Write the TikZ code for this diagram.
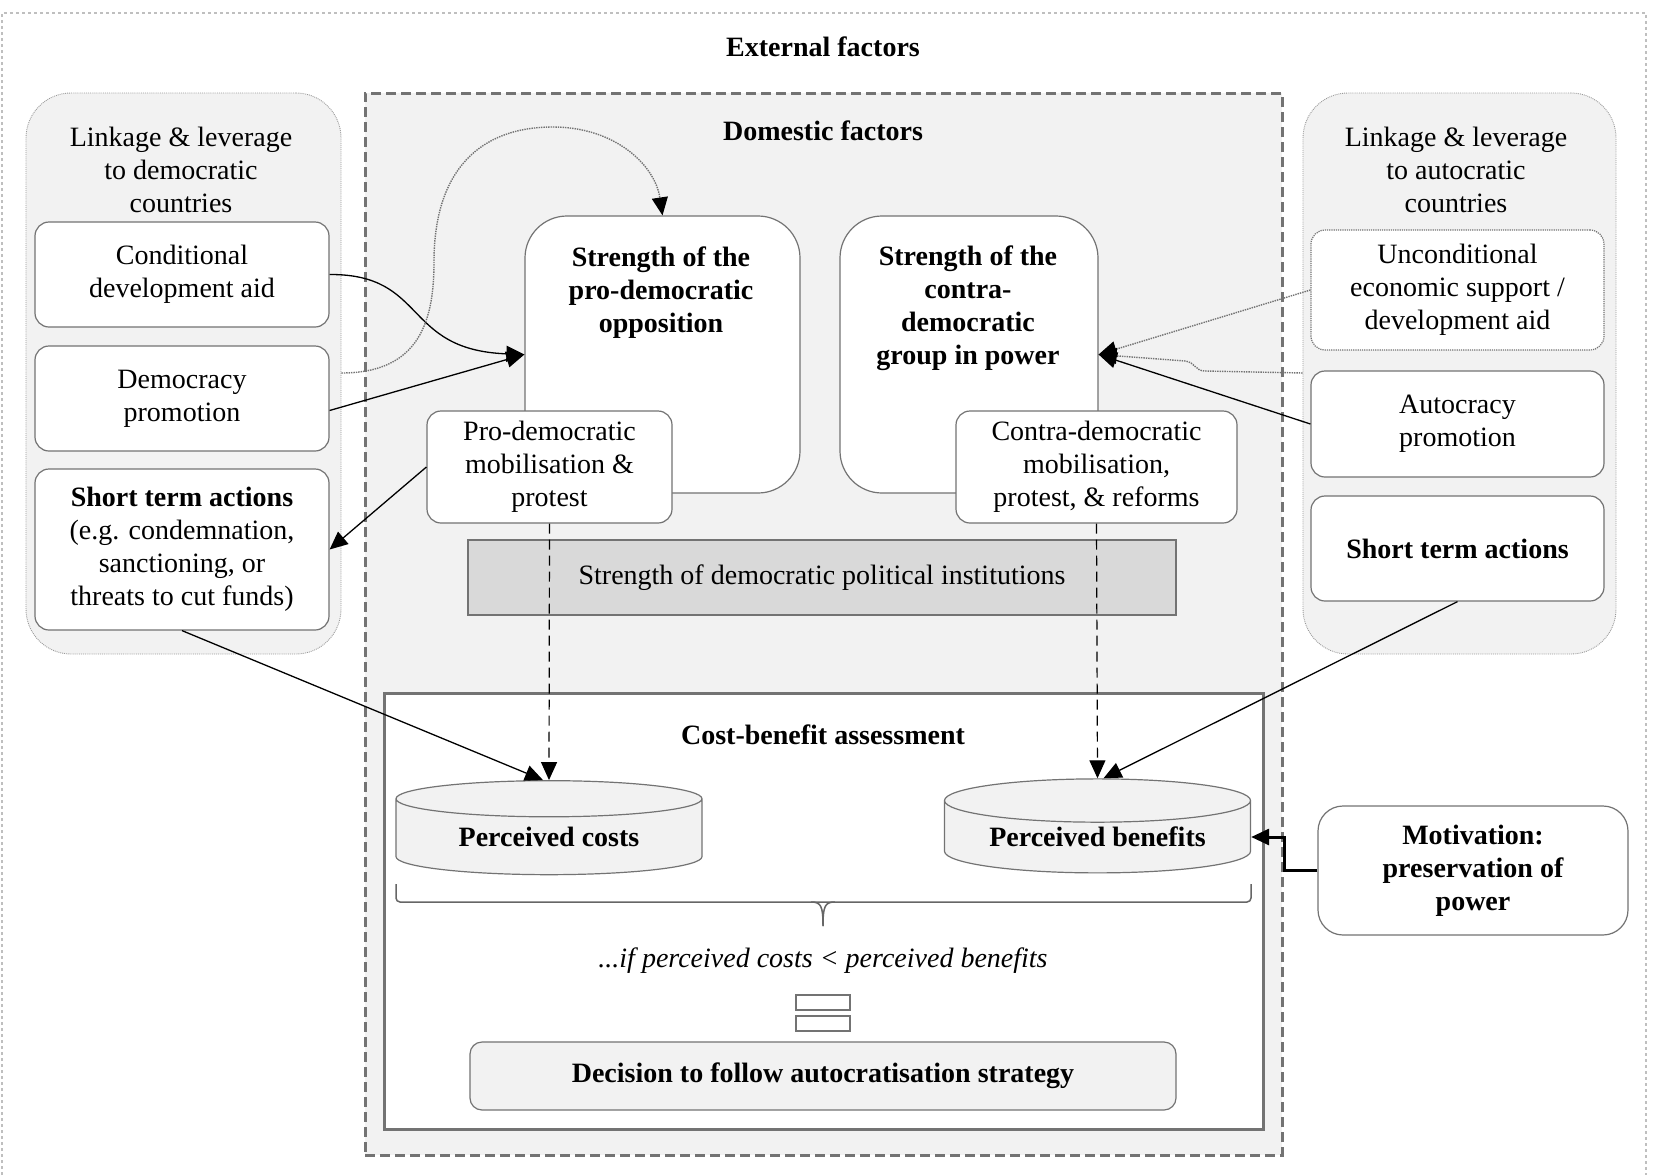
\documentclass[tikz,border=0pt]{standalone}
\usepackage{fontspec}
\setmainfont{Liberation Serif}
\usetikzlibrary{arrows.meta,shapes.geometric}

\begin{document}
\begin{tikzpicture}[x=1pt,y=-1pt,
    every node/.style={font=\fontsize{28}{33}\selectfont, align=center, inner sep=0pt},
    btext/.style={font=\fontsize{28}{33}\selectfont\bfseries},
    grpbox/.style={draw=black!40, densely dotted, line width=0.9pt, fill=black!5, rounded corners=45pt},
    itembox/.style={draw=black!55, line width=1.2pt, fill=white, rounded corners=14pt},
    strbox/.style={draw=black!55, line width=1.2pt, fill=white, rounded corners=42pt},
    drum/.style={cylinder, shape border rotate=90, aspect=0.2, draw=black!55, line width=1.2pt, fill=black!5},
    arr/.style={line width=1.3pt, -{Triangle[length=18pt,width=16pt]}},
    dotarr/.style={draw=black!55, densely dotted, line width=1.4pt, -{Triangle[length=18pt,width=16pt,color=black]}},
    dasharr/.style={dash pattern=on 10pt off 6pt, line width=1.2pt, -{Triangle[length=18pt,width=16pt]}}]
    \useasboundingbox (0,0) rectangle (1654,1175);
    \draw[black!25, dashed, line width=1.5pt] (2,1175) -- (2,13) -- (1646,13) -- (1646,1175);
    \node[btext] (ext) at (823,47) {External factors};
    \node[draw=black!55, dash pattern=on 10pt off 5pt, line width=3pt, fill=black!5, minimum width=917pt, minimum height=1062pt] (dom) at (823.5,624) {};
    \node[btext] (domt) at (823,131) {Domestic factors};

    \node[grpbox, minimum width=315pt, minimum height=561pt] (lgrp) at (183.5,373.5) {};
    \node (lgrpt) at (181,170) {Linkage \& leverage\\to democratic\\countries};
    \node[itembox, minimum width=294pt, minimum height=105pt] (cond) at (182,274.5) {Conditional\\development aid};
    \node[itembox, minimum width=294pt, minimum height=105pt] (dempro) at (182,398.5) {Democracy\\promotion};
    \node[itembox, minimum width=294pt, minimum height=161pt] (lshort) at (182,549.5) {\textbf{Short term actions}\\(e.g. condemnation,\\sanctioning, or\\threats to cut funds)};

    \node[grpbox, minimum width=313pt, minimum height=561pt] (rgrp) at (1459.5,373.5) {};
    \node (rgrpt) at (1456,170) {Linkage \& leverage\\to autocratic\\countries};
    \node[itembox, densely dotted, minimum width=293pt, minimum height=120pt] (uncond) at (1457.5,290) {Unconditional\\economic support /\\development aid};
    \node[itembox, minimum width=293pt, minimum height=106pt] (autpro) at (1457.5,424) {Autocracy\\promotion};
    \node[itembox, btext, minimum width=293pt, minimum height=105pt] (rshort) at (1457.5,548.5) {Short term actions};

    \node[strbox, minimum width=275pt, minimum height=277pt] (prostr) at (662.5,354.5) {};
    \node[btext] (prostrt) at (661,293) {Strength of the\\pro-democratic\\opposition};
    \node[strbox, minimum width=258pt, minimum height=277pt] (constr) at (969,354.5) {};
    \node[btext] (constrt) at (968,308) {Strength of the\\contra-\\democratic\\group in power};
    \node[itembox, minimum width=245pt, minimum height=112pt] (promob) at (549.5,467) {Pro-democratic\\mobilisation \&\\protest};
    \node[itembox, minimum width=281pt, minimum height=112pt] (conmob) at (1096.5,467) {Contra-democratic\\mobilisation,\\protest, \& reforms};
    \node[draw=black!55, line width=1.2pt, fill=black!15, minimum width=708pt, minimum height=75pt] (inst) at (822,577.5) {Strength of democratic political institutions};

    \node[draw=black!55, line width=3pt, fill=white, minimum width=879pt, minimum height=436pt] (cba) at (823.5,911) {};
    \node[btext] (cbat) at (823,735) {Cost-benefit assessment};
    \node[drum, btext, minimum width=306pt, minimum height=94pt] (costs) at (549,837) {Perceived costs};
    \node[drum, btext, minimum width=306pt, minimum height=94pt] (benef) at (1097.5,837) {Perceived benefits};
    \draw[black!60, line width=1.5pt, rounded corners=4pt] (396,884) -- (396,902) -- (1251,902) -- (1251,884);
    \draw[black!60, line width=1.5pt] (811,902) .. controls (821,902) and (823,906) .. (823,926);
    \draw[black!60, line width=1.5pt] (835,902) .. controls (825,902) and (823,906) .. (823,926);
    \node[font=\fontsize{28}{33}\selectfont\itshape] (rule) at (823,961) {...if perceived costs < perceived benefits};
    \draw[black!55, line width=1.2pt, fill=white] (796,995) rectangle (850,1010);
    \draw[black!55, line width=1.2pt, fill=white] (796,1016) rectangle (850,1031);
    \node[itembox, btext, fill=black!5, rounded corners=12pt, minimum width=706pt, minimum height=68pt] (dec) at (823,1076) {Decision to follow autocratisation strategy};

    \node[itembox, btext, rounded corners=25pt, minimum width=310pt, minimum height=129pt] (motiv) at (1473,870.5) {Motivation:\\preservation of\\power};

    \draw[arr] (cond.east) .. controls (428,274) and (402,350) .. (prostr.west);
    \draw[arr] ([yshift=-12pt]dempro.east) -- (prostr.west);
    \draw[dotarr] (lgrp.east |- 0,373) .. controls (420,373) and (434,320) .. (434,262) .. controls (434,170) and (480,127) .. (553,127) .. controls (615,127) and (655,165) .. (prostr.north);
    \draw[arr] (promob.west) -- (lshort.east);
    \draw[arr] (lshort.south) -- ([xshift=-6pt]costs.north);
    \draw[dasharr] (promob.south) -- (costs.north);
    \draw[dasharr] (conmob.south) -- (benef.north);
    \draw[arr] (rshort.south) -- ([xshift=6pt]benef.north);
    \draw[dotarr] (uncond.west) -- (constr.east);
    \draw[dotarr] (rgrp.west |- 0,373) -- (1205,371) .. controls (1195,371) and (1195,362) .. (1185,361) -- (constr.east);
    \draw[arr] (autpro.west) -- (constr.east);
    \draw[arr, line width=3pt] (motiv.west) -- ++(-33,0) |- (benef.east);
\end{tikzpicture}
\end{document}
